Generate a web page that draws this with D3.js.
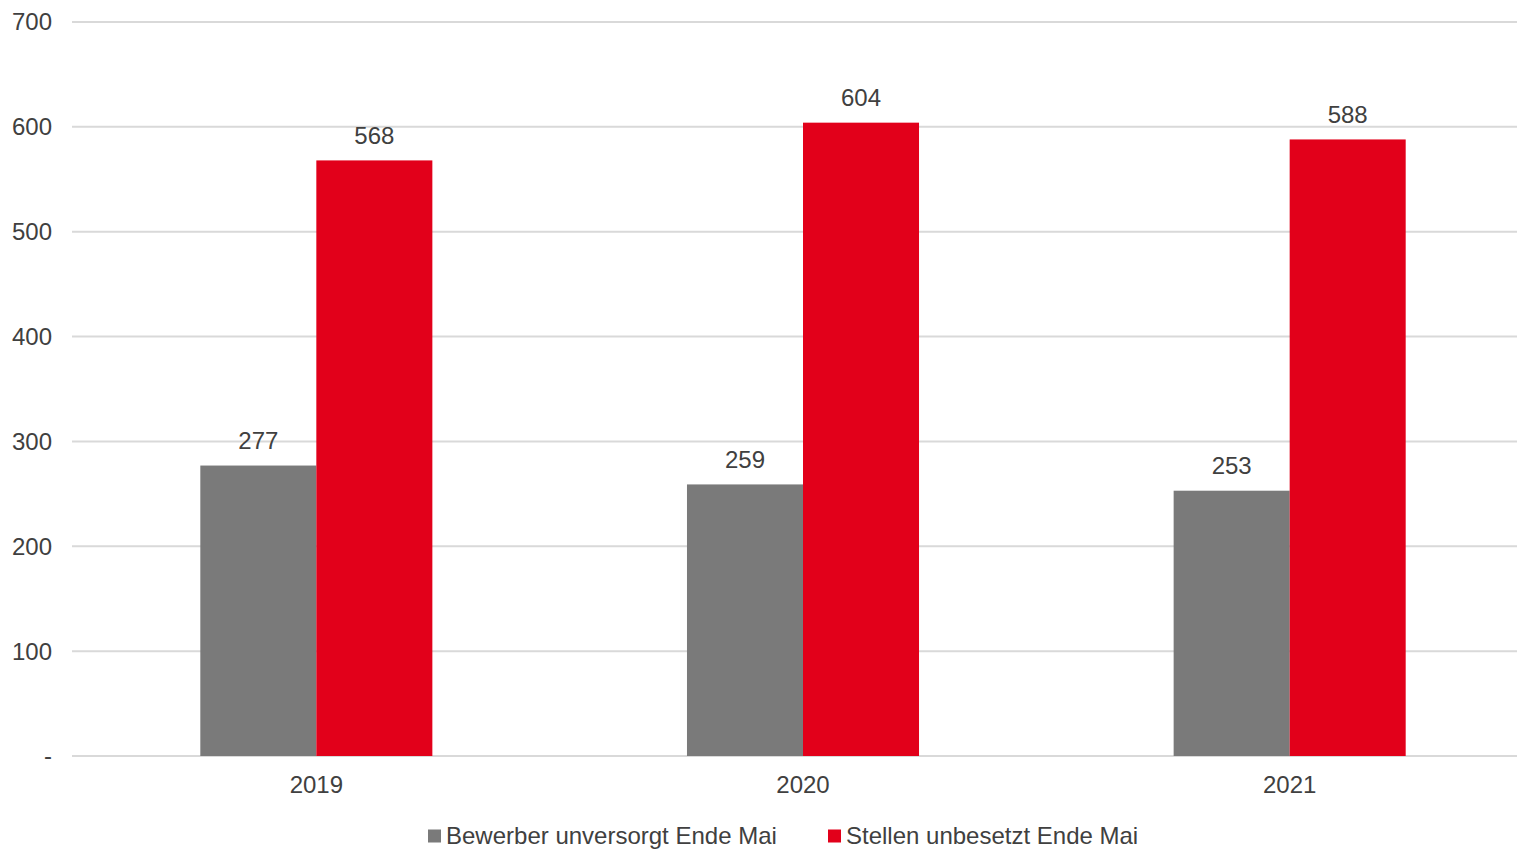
<!DOCTYPE html>
<html><head><meta charset="utf-8">
<script src="https://cdn.jsdelivr.net/npm/d3@7"></script>
<style>body{margin:0;background:#fff;} text{font-family:"Liberation Sans",Arial,sans-serif;}</style>
</head><body>
<svg id="c" width="1517" height="851"></svg>
<script>
const categories = ["2019","2020","2021"];
const seriesNames = ["Bewerber unversorgt Ende Mai","Stellen unbesetzt Ende Mai"];
const bewerber = [277,259,253];
const stellen = [568,604,588];
const yTicks = [0,100,200,300,400,500,600,700];
const colors = ["#7a7a7a","#e2001a"];

const svg = d3.select("#c");
const W = 1517;
const FS = 24;
const y = d3.scaleLinear().domain([0,700]).range([756,22]);
const x0 = d3.scaleBand().domain(categories).range([73,1533]).padding(0);
const bw = x0.bandwidth();
const x1 = d3.scaleBand().domain(seriesNames).range([bw*0.2616, bw*0.7384]).padding(0);
const txt = "#404040";

// grid
svg.append("g").selectAll("line").data(yTicks).join("line")
  .attr("x1",72).attr("x2",W).attr("y1",d=>y(d)).attr("y2",d=>y(d))
  .attr("stroke","#d9d9d9").attr("stroke-width",2);

// y labels
svg.append("g").selectAll("text").data(yTicks).join("text")
  .attr("x",52).attr("y",d=>y(d)).attr("dy","0.35em").attr("text-anchor","end")
  .attr("font-size",FS).attr("fill",txt)
  .text(d=>d===0?"-":d);

const data = categories.map((c,i)=>({cat:c, vals:[bewerber[i],stellen[i]]}));
const g = svg.append("g").selectAll("g").data(data).join("g")
  .attr("transform",d=>`translate(${x0(d.cat)},0)`);
g.selectAll("rect").data(d=>d.vals.map((v,j)=>({s:seriesNames[j],v,j}))).join("rect")
  .attr("x",d=>x1(d.s)).attr("width",x1.bandwidth())
  .attr("y",d=>y(d.v)).attr("height",d=>y(0)-y(d.v))
  .attr("fill",d=>colors[d.j]);
g.selectAll("text").data(d=>d.vals.map((v,j)=>({s:seriesNames[j],v,j}))).join("text")
  .attr("x",d=>x1(d.s)+x1.bandwidth()/2).attr("y",d=>y(d.v)-25).attr("dy","0.35em")
  .attr("text-anchor","middle").attr("font-size",FS).attr("fill",txt)
  .text(d=>d.v);

// x labels
svg.append("g").selectAll("text").data(categories).join("text")
  .attr("x",d=>x0(d)+bw/2).attr("y",785).attr("dy","0.35em").attr("text-anchor","middle")
  .attr("font-size",FS).attr("fill",txt).text(d=>d);

// legend
const leg = [{x:428},{x:828}];
const lg = svg.append("g").selectAll("g").data(seriesNames).join("g")
  .attr("transform",(d,i)=>`translate(${leg[i].x},836)`);
lg.append("rect").attr("x",0).attr("y",-6.5).attr("width",13).attr("height",13).attr("fill",(d,i)=>colors[i]);
lg.append("text").attr("x",18).attr("y",0).attr("dy","0.35em").attr("font-size",FS).attr("fill",txt).text(d=>d);
</script>
</body></html>
